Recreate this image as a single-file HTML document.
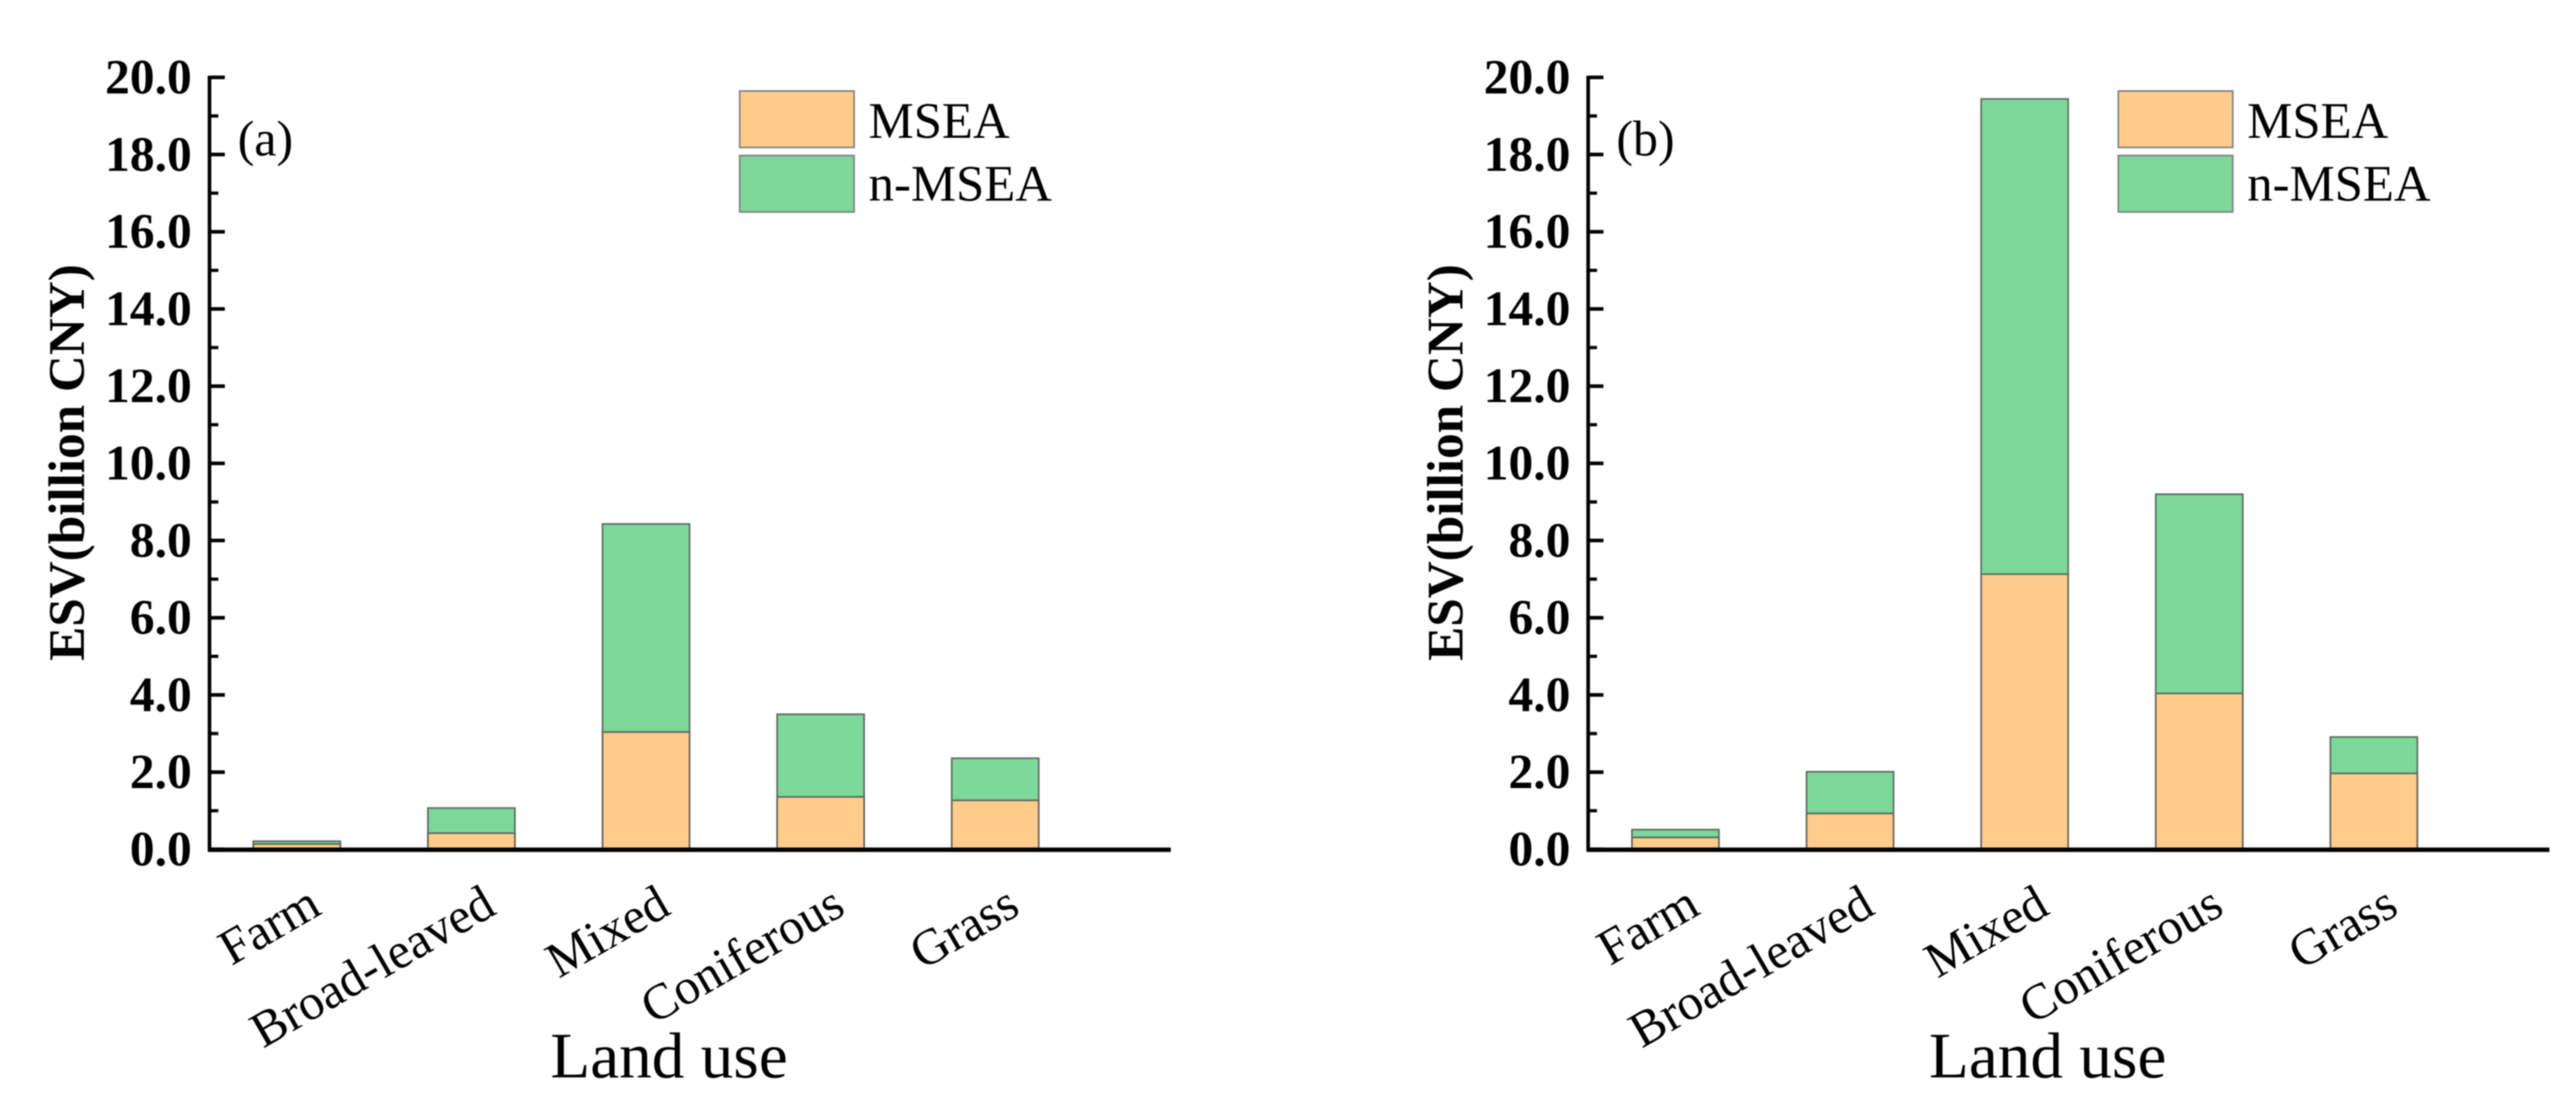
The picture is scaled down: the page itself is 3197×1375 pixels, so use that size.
<!DOCTYPE html>
<html lang="en">
<head>
<meta charset="utf-8">
<title>ESV by land use</title>
<style>
html,body{margin:0;padding:0;background:#fff;}
svg{display:block;filter:blur(0.7px);}
text{font-family:"Liberation Serif",serif;fill:#000;}
.tick{font-size:61.5px;font-weight:bold;text-anchor:end;}
.cat{font-size:62.5px;text-anchor:end;}
.ytitle{font-size:63.5px;font-weight:bold;text-anchor:middle;}
.xtitle{font-size:81px;}
.panel-tag{font-size:62px;}
.leg{font-size:63px;}
</style>
</head>
<body>
<svg id="figure" xmlns="http://www.w3.org/2000/svg" width="3197" height="1375" viewBox="0 0 3197 1375">
  <rect x="0" y="0" width="3197" height="1375" fill="#fff"/>
  <g id="panel-a">
    <text class="ytitle" transform="translate(104,574) rotate(-90)">ESV(billion CNY)</text>
    <text class="panel-tag" x="295" y="193">(a)</text>
    <text class="xtitle" x="683" y="1337">Land use</text>
    <g>
      <rect x="918" y="113" width="142" height="70" fill="#FFCC8C" stroke="#808080" stroke-width="2"/>
      <text class="leg" x="1078" y="171">MSEA</text>
      <rect x="918" y="193" width="142" height="70" fill="#7DD89A" stroke="#808080" stroke-width="2"/>
      <text class="leg" x="1078" y="249">n-MSEA</text>
    </g>
  </g>
  <g id="panel-b" transform="translate(1711,0)">
    <text class="ytitle" transform="translate(104,574) rotate(-90)">ESV(billion CNY)</text>
    <text class="panel-tag" x="295" y="193">(b)</text>
    <text class="xtitle" x="683" y="1337">Land use</text>
    <g>
      <rect x="918" y="113" width="142" height="70" fill="#FFCC8C" stroke="#808080" stroke-width="2"/>
      <text class="leg" x="1078" y="171">MSEA</text>
      <rect x="918" y="193" width="142" height="70" fill="#7DD89A" stroke="#808080" stroke-width="2"/>
      <text class="leg" x="1078" y="249">n-MSEA</text>
    </g>
  </g>
</svg>
<script>
const categories = ['Farm', 'Broad-leaved', 'Mixed', 'Coniferous', 'Grass'];
const mseaA = [0.14, 0.42, 3.04, 1.36, 1.27];
const nMseaA = [0.07, 0.65, 5.39, 2.14, 1.09];
const mseaB = [0.31, 0.93, 7.13, 4.04, 1.97];
const nMseaB = [0.20, 1.08, 12.31, 5.16, 0.94];
const majorTicks = [0, 2, 4, 6, 8, 10, 12, 14, 16, 18, 20];
const majorTickLabels = ['0.0', '2.0', '4.0', '6.0', '8.0', '10.0', '12.0', '14.0', '16.0', '18.0', '20.0'];
const minorTicks = [1, 3, 5, 7, 9, 11, 13, 15, 17, 19];

const SVG_NS = 'http://www.w3.org/2000/svg';
const axisLeft = 260, axisRight = 1453, axisBottom = 1054, unitY = 47.9, bandX = 216.7, barWidth = 108;

function yScale(v) { return axisBottom - v * unitY; }
function xScale(i) { return axisLeft + bandX * (i + 0.5); }
function make(tag, attrs) {
  const el = document.createElementNS(SVG_NS, tag);
  for (const k in attrs) el.setAttribute(k, attrs[k]);
  return el;
}

function drawPanel(group, suffix, lower, upper) {
  categories.forEach(function (cat, i) {
    const lo = make('rect', {x: xScale(i) - barWidth / 2, y: yScale(lower[i]), width: barWidth, height: yScale(0) - yScale(lower[i]), fill: '#FFCC8C', stroke: '#5f5a50', 'stroke-width': 2});
    
    
    group.appendChild(lo);

    const hi = make('rect', {x: xScale(i) - barWidth / 2, y: yScale(lower[i] + upper[i]), width: barWidth, height: yScale(lower[i]) - yScale(lower[i] + upper[i]), fill: '#7DD89A', stroke: '#5a6a5e', 'stroke-width': 2});
    
    
    group.appendChild(hi);

    const label = make('text', {class: 'cat', transform: 'translate(' + (xScale(i) + 33) + ',1133) rotate(-30)'});
    label.textContent = cat;
    
    
    group.appendChild(label);
  });

  const yAxis = make('line', {x1: axisLeft, x2: axisLeft, y1: yScale(20) - 2, y2: axisBottom + 2, stroke: '#000', 'stroke-width': 4.5});
  
  
  group.appendChild(yAxis);

  const xAxis = make('line', {x1: axisLeft - 2, x2: axisRight, y1: axisBottom + 0.5, y2: axisBottom + 0.5, stroke: '#000', 'stroke-width': 5.5});
  
  
  group.appendChild(xAxis);

  majorTicks.forEach(function (v, i) {
    const t = make('line', {x1: axisLeft, x2: axisLeft + 19, y1: yScale(v), y2: yScale(v), stroke: '#000', 'stroke-width': 4.5});
    
    
    group.appendChild(t);

    const l = make('text', {class: 'tick', x: 238, y: yScale(v) + 20});
    l.textContent = majorTickLabels[i];
    
    
    group.appendChild(l);
  });

  minorTicks.forEach(function (v) {
    const t = make('line', {x1: axisLeft, x2: axisLeft + 11, y1: yScale(v), y2: yScale(v), stroke: '#000', 'stroke-width': 4});
    
    
    group.appendChild(t);
  });
}

drawPanel(document.getElementById('panel-a'), 'a', mseaA, nMseaA);
drawPanel(document.getElementById('panel-b'), 'b', mseaB, nMseaB);
</script>
</body>
</html>
